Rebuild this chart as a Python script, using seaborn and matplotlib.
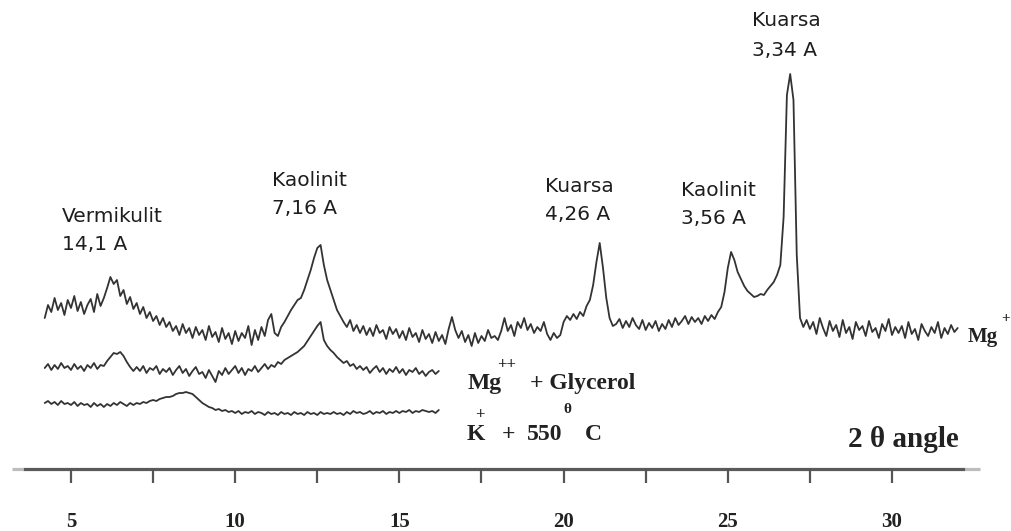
import numpy as np
import pandas as pd
import matplotlib
matplotlib.use("Agg")
import matplotlib.pyplot as plt
import seaborn as sns

# ----------------------------
# Scan settings (2 theta, degrees)
# ----------------------------
scan_step = 0.1
mg_start = 4.2
short_start = 4.2

# ----------------------------
# Relative intensities
# ----------------------------
# Mg+ saturated sample, 4.2 - 32.0 deg
mg_intensity = [
    32, 45, 38, 52, 40, 47, 35, 50,
    42, 54, 39, 48, 36, 45, 51, 38, 56, 44,
    52, 62, 73, 66, 70, 54, 60, 46, 53, 41,
    47, 36, 43, 32, 38, 29, 34, 25, 32, 23,
    28, 19, 24, 15, 26, 17, 22, 12, 23, 15,
    20, 10, 24, 13, 18, 8, 22, 11, 17, 6,
    19, 9, 17, 12, 24, 5, 20, 10, 23, 14,
    30, 36, 17, 14, 23, 28, 34, 40, 45, 50,
    52, 60, 70, 80, 92, 102, 105, 85, 70, 60,
    50, 40, 34, 28, 23, 30, 19, 25, 17, 24,
    15, 22, 14, 25, 17, 20, 11, 23, 16, 21,
    12, 19, 10, 22, 13, 17, 8, 20, 11, 16,
    7, 18, 9, 15, 6, 21, 33, 20, 12, 19,
    8, 15, 4, 17, 7, 14, 9, 20, 12, 14,
    10, 19, 32, 19, 25, 14, 28, 22, 32, 20,
    26, 17, 23, 19, 28, 16, 10, 17, 12, 15,
    28, 34, 30, 36, 31, 38, 34, 44, 50, 65,
    88, 107, 82, 52, 32, 24, 26, 31, 22, 29,
    23, 32, 25, 21, 30, 20, 27, 22, 29, 19,
    26, 21, 30, 23, 32, 25, 29, 34, 26, 33,
    28, 32, 26, 34, 29, 35, 31, 38, 43, 58,
    82, 98, 90, 78, 71, 64, 59, 56, 53, 54,
    56, 55, 60, 64, 68, 75, 85, 133, 255, 276,
    250, 95, 32, 23, 30, 21, 28, 16, 32, 22,
    14, 29, 19, 25, 13, 30, 17, 23, 11, 28,
    20, 24, 14, 29, 18, 22, 12, 26, 19, 31,
    15, 23, 17, 24, 12, 28, 16, 21, 10, 26,
    19, 14, 23, 17, 28, 12, 22, 16, 25, 18, 22,
]

# Mg++ + glycerol, 4.2 - 16.2 deg
glycerol_intensity = [
    22, 26, 20, 25, 21, 27, 22, 24,
    20, 26, 21, 24, 19, 25, 22, 27, 21, 25,
    24, 29, 33, 37, 36, 38, 34, 28, 23, 19,
    23, 19, 24, 17, 22, 20, 24, 16, 21, 18,
    22, 15, 20, 24, 17, 21, 14, 19, 23, 16,
    18, 12, 20, 14, 8, 19, 15, 22, 16, 20,
    24, 17, 22, 15, 21, 19, 24, 18, 22, 26,
    21, 25, 23, 28, 26, 30, 32, 34, 36, 38,
    41, 44, 49, 54, 59, 64, 68, 50, 44, 40,
    37, 33, 30, 27, 29, 24, 26, 21, 24, 20,
    23, 17, 21, 24, 18, 22, 16, 21, 18, 23,
    17, 21, 15, 20, 18, 22, 16, 19, 14, 18,
    20, 16, 19,
]

# K+ heated to 550 C, 4.2 - 16.2 deg
k550_intensity = [
    17, 19, 16, 18, 15, 19, 16, 17,
    15, 18, 14, 17, 15, 16, 13, 17, 14, 16,
    13, 16, 14, 17, 15, 18, 16, 14, 17, 15,
    17, 16, 18, 17, 19, 20, 19, 21, 22, 23,
    23, 24, 26, 27, 27, 28, 27, 26, 23, 20,
    17, 15, 13, 12, 10, 11, 9, 10, 8, 9,
    7, 9, 6, 8, 7, 9, 6, 8, 7, 5,
    8, 6, 7, 5, 8, 6, 7, 5, 8, 6,
    7, 5, 8, 6, 7, 5, 8, 6, 7, 6,
    8, 6, 7, 5, 8, 6, 9, 7, 8, 6,
    7, 9, 6, 8, 7, 9, 6, 8, 7, 9,
    7, 9, 8, 10, 7, 9, 8, 10, 9, 8,
    9, 7, 10,
]

peak_names = ["Vermikulit", "Kaolinit", "Kuarsa", "Kaolinit", "Kuarsa"]
peak_d = ["14,1 A", "7,16 A", "4,26 A", "3,56 A", "3,34 A"]

major_ticks = [5, 10, 15, 20, 25, 30]
minor_ticks = [7.5, 12.5, 17.5, 22.5, 27.5]

# ----------------------------
# Build long table (traces are stacked with vertical offsets)
# ----------------------------
def scan(values, start, name, offset):
    tt = np.round(start + scan_step * np.arange(len(values)), 2)
    return pd.DataFrame({"two_theta": tt,
                         "intensity": np.array(values) + offset,
                         "sample": name})

df = pd.concat([
    scan(mg_intensity, mg_start, "Mg+", 119),
    scan(glycerol_intensity, short_start, "Mg++ glycerol", 79),
    scan(k550_intensity, short_start, "K+ 550C", 49),
], ignore_index=True)

# ----------------------------
# Plot
# ----------------------------
sns.set_theme(style="white")
fig = plt.figure(figsize=(10.11, 5.31), dpi=100)
ax = fig.add_axes([0, 0, 1, 1])

sns.lineplot(data=df, x="two_theta", y="intensity", units="sample",
             estimator=None, color="#333333", lw=1.3, ax=ax, legend=False)

ax.set_xlim(2.838, 33.624)
ax.set_ylim(-62, 469)
ax.axis("off")

# 2 theta axis line with ticks
ax.hlines(0, 3.53, 32.21, color="#5a5a5a", lw=2.3)
ax.hlines(0, 3.2, 3.53, color="#bdbdbd", lw=2.3)
ax.hlines(0, 32.21, 32.68, color="#bdbdbd", lw=2.3)
ax.vlines(major_ticks + minor_ticks, -14, 0, color="#555555", lw=1.6)

serif = ["Liberation Serif", "DejaVu Serif"]
for t in major_ticks:
    ax.text(t, -53, str(t), ha="center", va="center", family=serif,
            fontweight="bold", fontsize=15, color="#222222")

# peak annotations
sans = dict(family="DejaVu Sans", fontsize=14.5, color="#1e1e1e",
            ha="left", va="center")
label_x = [4.73, 11.12, 19.43, 23.57, 25.74]
name_y = [253, 288, 282, 278, 448]
d_y = [225, 260, 254, 250, 418]
for name, d, x, y1, y2 in zip(peak_names, peak_d, label_x, name_y, d_y):
    ax.text(x, y1, name, **sans)
    ax.text(x, y2, d, **sans)

# sample labels
sb = dict(family=serif, fontweight="bold", color="#222222", va="baseline")
ax.text(32.31, 127, "Mg", fontsize=15, **sb)
ax.text(33.47, 147, "+", fontsize=11, ha="center", **sb)

ax.text(17.09, 80, "Mg", fontsize=17, **sb)
ax.text(17.97, 100, "++", fontsize=12, **sb)
ax.text(18.98, 80, "+ Glycerol", fontsize=17, **sb)

ax.text(17.06, 29, "K", fontsize=17, **sb)
ax.text(17.45, 50, "+", fontsize=12, ha="center", **sb)
ax.text(18.12, 29, "+", fontsize=17, **sb)
ax.text(18.89, 29, "550", fontsize=17, **sb)
ax.text(20.13, 56, "θ", fontsize=11, ha="center", **sb)
ax.text(20.65, 29, "C", fontsize=17, **sb)

ax.text(28.66, 22, "2 θ angle", fontsize=21, **sb)

fig.savefig("out.png", dpi=100)
